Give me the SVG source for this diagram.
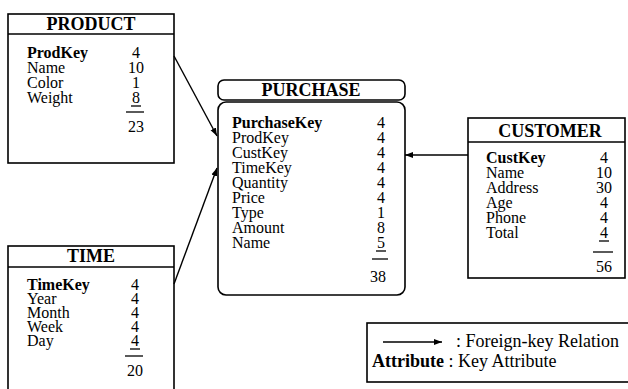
<svg xmlns="http://www.w3.org/2000/svg" width="628" height="389" viewBox="0 0 628 389">
<defs>
<style>
.box{fill:none;stroke:#000;stroke-width:1.6}
.sep{stroke:#000;stroke-width:1.4}
.ttl{font-family:"Liberation Serif",serif;font-weight:bold;font-size:18px;text-anchor:middle;fill:#000}
.t{font-family:"Liberation Serif",serif;font-size:16px;fill:#000}
.k{font-weight:bold}
.v{font-family:"Liberation Serif",serif;font-size:16px;fill:#000;text-anchor:middle}
.ul{stroke:#000;stroke-width:1.3}
.conn{stroke:#000;stroke-width:1.4;fill:none}
.lg{font-family:"Liberation Serif",serif;font-size:18px;fill:#000}
</style>
<marker id="ah" markerUnits="userSpaceOnUse" markerWidth="9" markerHeight="7" refX="8" refY="3.5" orient="auto">
<path d="M0,0.5 L8,3.5 L0,6.5 z" fill="#000"/>
</marker>
</defs>
<rect width="628" height="389" fill="#fff"/>

<g id="product">
<rect class="box" x="8" y="14" width="166" height="149"/>
<line class="sep" x1="8" y1="34" x2="174" y2="34"/>
<text class="ttl" x="91" y="30">PRODUCT</text>
<text class="t k" x="27" y="58">ProdKey</text>
<text class="t" x="27" y="73">Name</text>
<text class="t" x="27" y="88">Color</text>
<text class="t" x="27" y="103">Weight</text>
<text class="v" x="136" y="58">4</text>
<text class="v" x="136" y="73">10</text>
<text class="v" x="136" y="88">1</text>
<text class="v" x="136" y="103">8</text>
<line class="ul" x1="131" y1="106" x2="141" y2="106"/>
<line class="ul" x1="126" y1="112" x2="144" y2="112"/>
<text class="v" x="136" y="132">23</text>
</g>

<g id="purchase">
<rect class="box" x="218" y="80" width="187" height="20" rx="6"/>
<text class="ttl" x="311" y="96">PURCHASE</text>
<rect class="box" x="218" y="102" width="187" height="193" rx="8"/>
<text class="t k" x="232" y="128">PurchaseKey</text>
<text class="t" x="232" y="143">ProdKey</text>
<text class="t" x="232" y="158">CustKey</text>
<text class="t" x="232" y="173">TimeKey</text>
<text class="t" x="232" y="188">Quantity</text>
<text class="t" x="232" y="203">Price</text>
<text class="t" x="232" y="218">Type</text>
<text class="t" x="232" y="233">Amount</text>
<text class="t" x="232" y="248">Name</text>
<text class="v" x="381" y="128">4</text>
<text class="v" x="381" y="143">4</text>
<text class="v" x="381" y="158">4</text>
<text class="v" x="381" y="173">4</text>
<text class="v" x="381" y="188">4</text>
<text class="v" x="381" y="203">4</text>
<text class="v" x="381" y="218">1</text>
<text class="v" x="381" y="233">8</text>
<text class="v" x="381" y="248">5</text>
<line class="ul" x1="376" y1="251" x2="386" y2="251"/>
<line class="ul" x1="372" y1="259" x2="388" y2="259"/>
<text class="v" x="378" y="282">38</text>
</g>

<g id="customer">
<rect class="box" x="468" y="118" width="157" height="160"/>
<line class="sep" x1="468" y1="142" x2="625" y2="142"/>
<text class="ttl" x="550" y="137">CUSTOMER</text>
<text class="t k" x="486" y="163">CustKey</text>
<text class="t" x="486" y="178">Name</text>
<text class="t" x="486" y="193">Address</text>
<text class="t" x="486" y="208">Age</text>
<text class="t" x="486" y="223">Phone</text>
<text class="t" x="486" y="238">Total</text>
<text class="v" x="604" y="163">4</text>
<text class="v" x="604" y="178">10</text>
<text class="v" x="604" y="193">30</text>
<text class="v" x="604" y="208">4</text>
<text class="v" x="604" y="223">4</text>
<text class="v" x="604" y="238">4</text>
<line class="ul" x1="599" y1="241" x2="609" y2="241"/>
<line class="ul" x1="593" y1="252" x2="613" y2="252"/>
<text class="v" x="604" y="272">56</text>
</g>

<g id="time">
<rect class="box" x="8" y="246" width="166" height="150"/>
<line class="sep" x1="8" y1="267" x2="174" y2="267"/>
<text class="ttl" x="91" y="262">TIME</text>
<text class="t k" x="27" y="290">TimeKey</text>
<text class="t" x="27" y="304">Year</text>
<text class="t" x="27" y="318">Month</text>
<text class="t" x="27" y="332">Week</text>
<text class="t" x="27" y="346">Day</text>
<text class="v" x="135" y="290">4</text>
<text class="v" x="135" y="304">4</text>
<text class="v" x="135" y="318">4</text>
<text class="v" x="135" y="332">4</text>
<text class="v" x="135" y="346">4</text>
<line class="ul" x1="130" y1="349" x2="140" y2="349"/>
<line class="ul" x1="125" y1="356" x2="143" y2="356"/>
<text class="v" x="135" y="376">20</text>
</g>

<g id="connectors">
<line class="conn" x1="174" y1="56" x2="217" y2="136" marker-end="url(#ah)"/>
<line class="conn" x1="174" y1="284" x2="217" y2="168" marker-end="url(#ah)"/>
<line class="conn" x1="468" y1="155" x2="405" y2="155" marker-end="url(#ah)"/>
</g>

<g id="legend">
<rect class="box" x="367" y="323" width="270" height="59"/>
<line class="conn" x1="383" y1="342" x2="442" y2="342" marker-end="url(#ah)"/>
<text class="lg" x="456" y="347">: Foreign-key Relation</text>
<text class="lg" x="372" y="367"><tspan font-weight="bold">Attribute</tspan> : Key Attribute</text>
</g>
</svg>
